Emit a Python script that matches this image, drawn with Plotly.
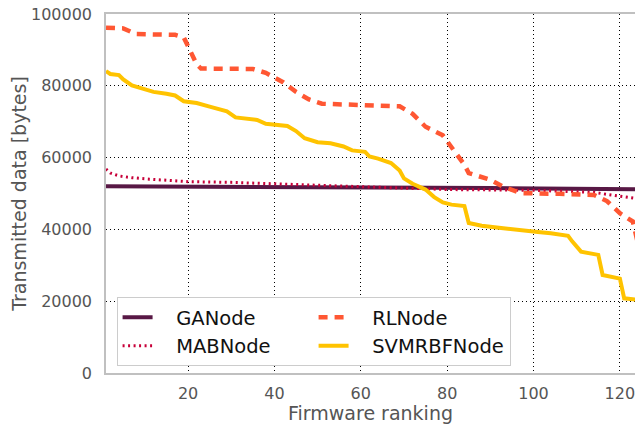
import plotly.graph_objects as go

# Firmware ranking (x) and transmitted data in bytes (y)
ga_x = [1, 30, 60, 90, 125]
ga_y = [52000, 51900, 51700, 51500, 51200]

mab_x = [1, 2, 4, 7, 11, 15, 20, 30, 41, 55, 69, 80, 100, 110, 114, 118, 124]
mab_y = [56800, 55700, 54900, 54400, 54000, 53600, 53300, 53100, 52700, 52200,
         51600, 51100, 50900, 50600, 50300, 49600, 48600]

rl_x = [1, 5, 8, 17, 19, 20, 22, 23, 35, 38, 42, 45, 48, 51, 69, 72, 75, 79, 81,
        84, 85, 90, 93, 97, 106, 114, 117, 120, 123, 124, 125]
rl_y = [96200, 96000, 94400, 94200, 93500, 91000, 86000, 84800, 84700, 83600,
        81000, 78300, 76200, 75000, 74300, 72200, 68600, 66200, 63100, 58000,
        55700, 53800, 51900, 50100, 49900, 49600, 47900, 44500, 42200, 37000, 25000]

svm_x = [1, 2, 4, 5, 7, 9, 12, 15, 17, 19, 22, 25, 29, 31, 36, 38, 41, 43, 45, 47,
         50, 53, 56, 58, 61, 62, 64, 67, 69, 70, 72, 75, 77, 79, 81, 84, 85, 88,
         93, 97, 101, 104, 108, 109, 111, 115, 116, 120, 121, 125]
svm_y = [84100, 83300, 83000, 81800, 80100, 79300, 78300, 77800, 77300, 75700,
         75200, 74200, 72900, 71200, 70500, 69400, 69000, 68800, 67400, 65400,
         64300, 64000, 63100, 62000, 61600, 60300, 59700, 58500, 56400, 54200,
         52700, 51100, 49000, 47500, 46900, 46500, 41800, 41000, 40300, 39900,
         39300, 38900, 38200, 36600, 33800, 32900, 27300, 26300, 20800, 20300]

series_names = ["GANode", "MABNode", "RLNode", "SVMRBFNode"]
x_ticks = [20, 40, 60, 80, 100, 120]
y_ticks = [0, 20000, 40000, 60000, 80000, 100000]

FONT = "DejaVu Sans"
GREY = "#555555"
PAD = "\u00a0\u00a0\u00a0"  # extra gap between legend sample and label

fig = go.Figure()
fig.add_trace(go.Scatter(x=ga_x, y=ga_y, mode="lines", name=PAD + series_names[0],
                         line=dict(color="#581845", width=4), legendrank=1))
fig.add_trace(go.Scatter(x=mab_x, y=mab_y, mode="lines", name=PAD + series_names[1],
                         line=dict(color="#C70039", width=3, dash="2px,3.5px"), legendrank=3))
fig.add_trace(go.Scatter(x=rl_x, y=rl_y, mode="lines", name=PAD + series_names[2],
                         line=dict(color="#FF5733", width=4.5, dash="9px,7px"), legendrank=2))
fig.add_trace(go.Scatter(x=svm_x, y=svm_y, mode="lines", name=PAD + series_names[3],
                         line=dict(color="#FFC300", width=4), legendrank=4))

# the page body has an 8px margin, so the figure is shrunk and shifted by that amount
fig.update_layout(
    width=627, height=416,
    margin=dict(l=98, r=0, t=6, b=51),
    paper_bgcolor="white", plot_bgcolor="white",
    font=dict(family=FONT, color=GREY),
    showlegend=True,
    legend=dict(orientation="h", x=0.02, y=0.019, xanchor="left", yanchor="bottom",
                entrywidth=151, entrywidthmode="pixels",
                bgcolor="white", bordercolor="#cccccc", borderwidth=1,
                font=dict(family=FONT, size=19.5, color="#111111")),
    xaxis=dict(range=[1, 123.5], tickvals=x_ticks, showgrid=True, gridcolor="black",
               griddash="1px,3px", gridwidth=1, zeroline=False, showline=True,
               linecolor="#c0c0c0", linewidth=1.5, mirror=True, ticks="",
               automargin=False, ticklabeloverflow="allow",
               tickfont=dict(size=16, color=GREY), ticklabelstandoff=5,
               title=dict(text="Firmware ranking", font=dict(size=19, color=GREY), standoff=8)),
    yaxis=dict(range=[0, 100000], tickvals=y_ticks, tickformat="d", showgrid=True,
               gridcolor="black", griddash="1px,3px", gridwidth=1, zeroline=False,
               showline=True, linecolor="#c0c0c0", linewidth=1.5, mirror=False, ticks="",
               automargin=False, ticklabeloverflow="allow",
               tickfont=dict(size=16, color=GREY), ticklabelstandoff=9,
               title=dict(text="Transmitted data [bytes]", font=dict(size=19, color=GREY), standoff=3)),
)

fig.write_html("out.html")
